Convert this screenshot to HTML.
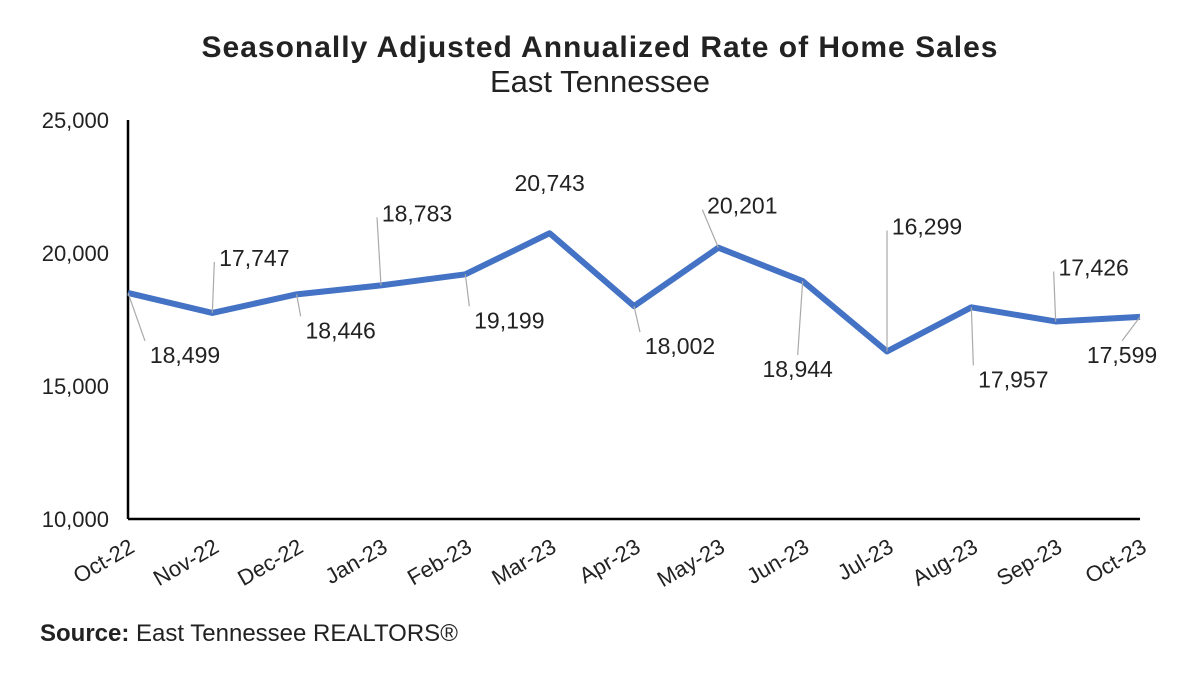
<!DOCTYPE html>
<html><head><meta charset="utf-8"><style>
body{margin:0;background:#fff;font-family:"Liberation Sans",Arial,sans-serif}
svg text{font-family:"Liberation Sans",Arial,sans-serif;fill:#222}
</style></head><body>
<svg id="c" width="1200" height="675" viewBox="0 0 1200 675">
<text x="600" y="57" text-anchor="middle" font-size="30" font-weight="bold" letter-spacing="1" fill="#333">Seasonally Adjusted Annualized Rate of Home Sales</text>
<text x="600" y="92" text-anchor="middle" font-size="31" fill="#333">East Tennessee</text>
<text x="40" y="641" font-size="24"><tspan font-weight="bold">Source:</tspan> East Tennessee REALTORS®</text>
<g id="g"></g>
</svg>
<script>
const categories=["Oct-22","Nov-22","Dec-22","Jan-23","Feb-23","Mar-23","Apr-23","May-23","Jun-23","Jul-23","Aug-23","Sep-23","Oct-23"];
const values=[18499,17747,18446,18783,19199,20743,18002,20201,18944,16299,17957,17426,17599];
const pointLabels=["18,499","17,747","18,446","18,783","19,199","20,743","18,002","20,201","18,944","16,299","17,957","17,426","17,599"];
const yTicks=[10000,15000,20000,25000];
const yTickLabels=["10,000","15,000","20,000","25,000"];
// label offsets (dx,dy from point) — layout only
const offs=[[57,62],[42,-55],[44,36],[36,-72],[44,46],[0,-50],[46,40],[24,-42],[-5,88],[40,-125],[42,72],[38,-54],[-18,38]];
const leader=[true,true,true,true,true,false,true,true,true,true,true,true,true];
const X0=128,X1=1140,Y0=519,Y1=120,VMIN=10000,VMAX=25000;
const x=i=>X0+(X1-X0)*i/(categories.length-1);
const y=v=>Y0-(v-VMIN)/(VMAX-VMIN)*(Y0-Y1);
const g=document.getElementById('g');const NS="http://www.w3.org/2000/svg";
function mk(t,a){const e=document.createElementNS(NS,t);for(const k in a)e.setAttribute(k,a[k]);g.appendChild(e);return e;}
let e=mk('line',{x1:X0,y1:Y1,x2:X0,y2:Y0,stroke:'#000','stroke-width':2.5});


e=mk('line',{x1:X0,y1:Y0,x2:X1,y2:Y0,stroke:'#000','stroke-width':2.5});


yTicks.forEach((v,i)=>{const t=mk('text',{x:X0-19,y:y(v)+8,'text-anchor':'end','font-size':22});t.textContent=yTickLabels[i];

});
categories.forEach((c,i)=>{const t=mk('text',{x:0,y:0,'text-anchor':'end','font-size':22,transform:`translate(${x(i)+8},${Y0+32}) rotate(-30)`});t.textContent=c;

});
const pts=values.map((v,i)=>x(i)+','+y(v)).join(' ');
e=mk('polyline',{points:pts,fill:'none',stroke:'#4472C4','stroke-width':6,'stroke-linejoin':'round'});


values.forEach((v,i)=>{const px=x(i),py=y(v),lx=px+offs[i][0],ly=py+offs[i][1];
if(leader[i]){const up=offs[i][1]<0;const l=mk('line',{x1:px,y1:py,x2:lx-(offs[i][0]>20?40:0),y2:up?ly+4:ly-14,stroke:'#aaa','stroke-width':1.2});

}
const t=mk('text',{x:lx,y:ly+8,'text-anchor':'middle','font-size':23});t.textContent=pointLabels[i];

});
</script>
</body></html>
